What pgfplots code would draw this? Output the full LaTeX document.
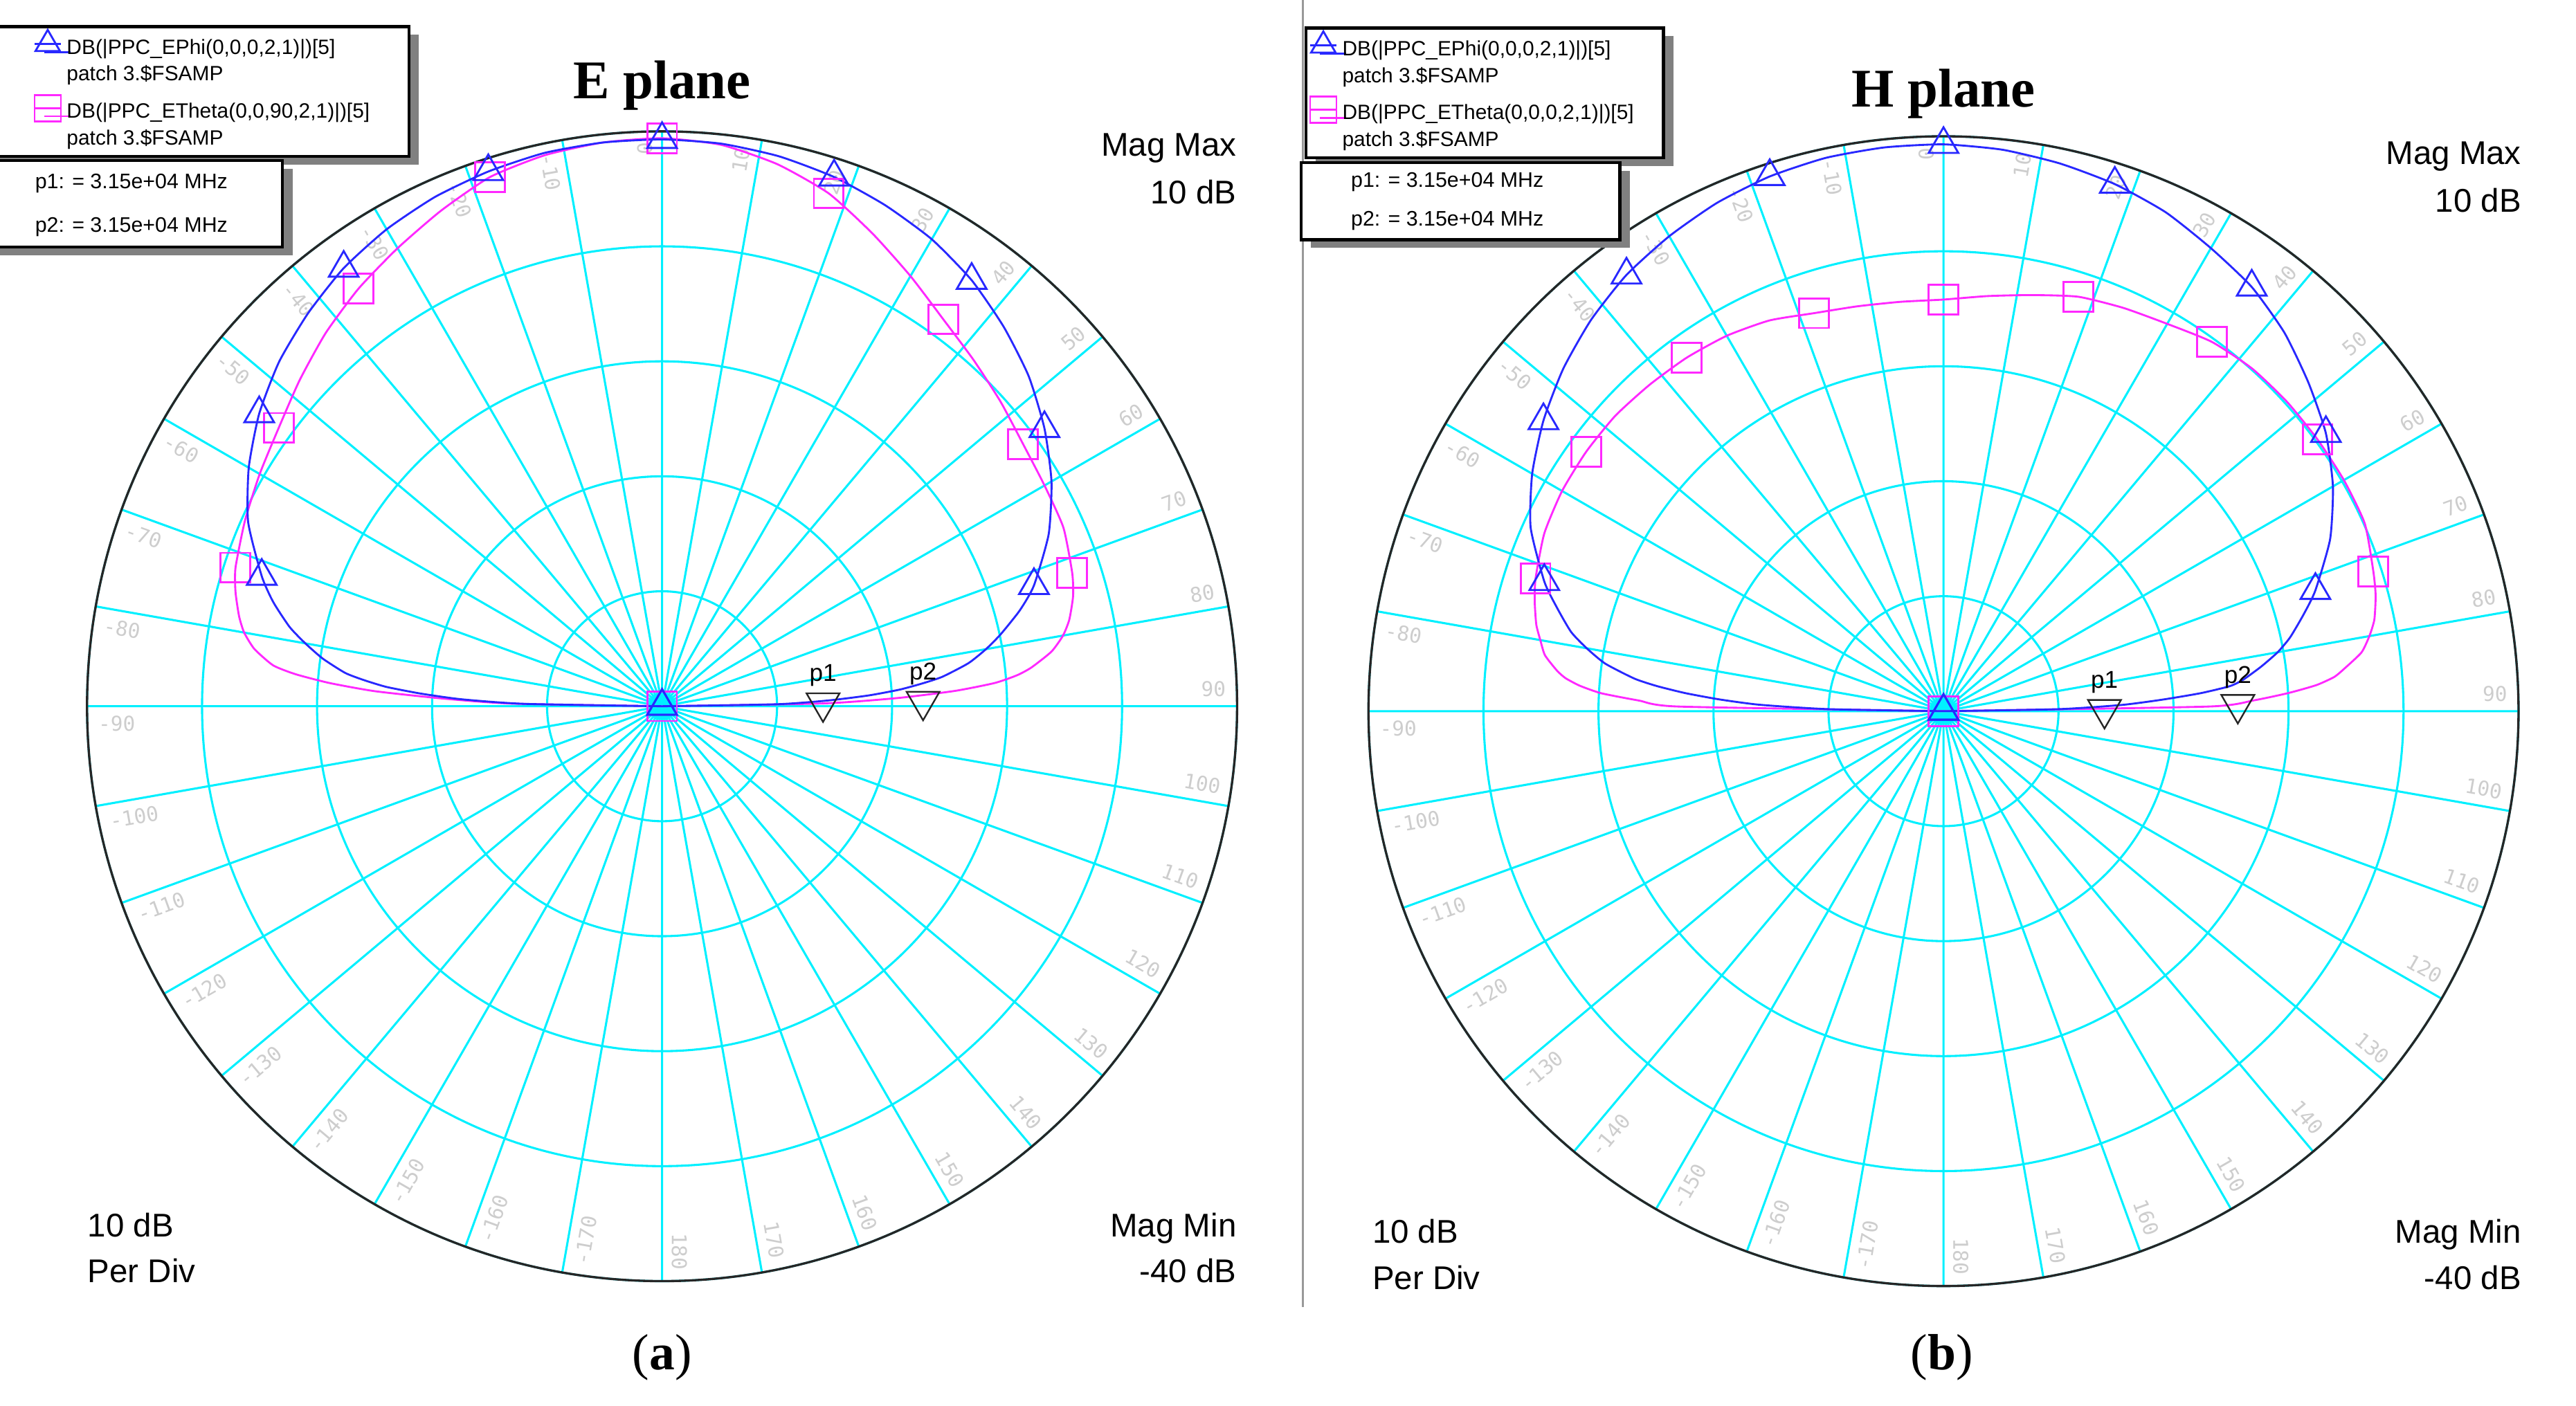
\documentclass[border=0pt]{standalone}
\usepackage{fontspec}
\setmainfont{Liberation Sans}
\newfontfamily\serifF{Liberation Serif}
\newfontfamily\monoF{DejaVu Sans Mono}
\usepackage{pgfplots}
\usepackage{pgfplotstable}
\pgfplotsset{compat=1.18}
\usepgfplotslibrary{polar}
\usetikzlibrary{shadows}

\definecolor{cblue}{RGB}{40,40,255}
\definecolor{cpink}{RGB}{255,40,255}
\definecolor{cgrid}{RGB}{0,240,255}
\definecolor{clabel}{RGB}{205,205,205}
\newcommand\fsz[1]{\fontsize{#1}{#1}\selectfont}

% theta (deg, clockwise from top), gain (dB)
\pgfplotstableread{
t db
-90 -40
-89 -28
-88 -22.5
-87 -19
-86 -16
-85 -14
-84 -12.3
-82 -10.2
-80 -8.5
-78 -6.9
-75 -5.0
-72 -3.4
-66 -0.6
-60 1.5
-54 3.3
-48 4.8
-42 6.0
-36 7.1
-30 7.9
-24 8.5
-18 8.9
-12 9.2
-6 9.3
0 9.3
6 9.2
12 8.9
18 8.4
24 7.7
30 6.9
36 5.8
42 4.4
48 2.9
54 1.1
60 -0.9
66 -3.2
72 -6.0
75 -7.8
78 -9.9
80 -11.4
82 -13.1
84 -15.5
85 -17.3
86 -19.3
87 -22.0
88 -25.5
89 -30.0
90 -40
}\EBlue

\pgfplotstableread{
t db
-90 -40
-89 -27
-88 -21
-87 -15
-86 -11
-85 -8
-84 -6
-82 -4.2
-80 -3.1
-78 -2.4
-75 -1.6
-72 -1.0
-66 -0.3
-60 0.4
-54 1.2
-48 2.4
-42 3.7
-36 4.9
-30 6.0
-24 7.2
-18 8.4
-12 9.0
-6 9.3
0 9.4
6 9.1
12 8.2
18 6.9
24 5.0
30 3.2
36 1.6
42 0.5
48 -0.4
54 -1.2
60 -1.6
66 -1.8
72 -2.5
75 -3.0
78 -3.8
80 -4.6
82 -5.8
84 -7.7
85 -9.0
86 -11
87 -14.5
88 -19.5
89 -26
90 -40
}\EPink

\pgfplotstableread{
t db
-90 -40
-89 -30
-88 -24
-87 -20.5
-86 -17.5
-85 -15
-84 -13.0
-82 -10.3
-80 -8.5
-78 -6.9
-75 -5.2
-72 -3.5
-66 -0.7
-60 1.3
-54 3.0
-48 4.5
-42 5.8
-36 6.9
-30 7.7
-24 8.4
-18 8.9
-12 9.2
-6 9.3
0 9.3
6 9.1
12 8.7
18 8.2
24 7.5
30 6.5
36 5.6
42 4.3
48 2.7
54 1.1
60 -0.9
66 -3.2
72 -6.0
75 -7.6
78 -9.2
80 -10.5
82 -12.1
84 -13.8
85 -15.0
86 -17.6
87 -21.0
88 -24.5
89 -30.0
90 -40
}\HBlue

\pgfplotstableread{
t db
-90 -40
-89 -17
-88 -13.5
-87 -10.2
-86 -8.3
-85 -7.0
-84 -6.2
-82 -5.0
-80 -4.4
-78 -3.8
-75 -3.2
-72 -2.7
-66 -2.0
-60 -1.7
-54 -1.6
-48 -1.6
-42 -1.8
-36 -2.0
-30 -2.3
-24 -2.8
-18 -3.6
-12 -4.0
-6 -4.2
0 -4.2
6 -3.7
12 -3.0
18 -2.1
24 -1.6
30 -1.1
36 -0.3
42 0.1
48 0.2
54 0.2
60 0.2
66 0.1
72 -0.7
75 -1.1
78 -1.7
80 -2.4
82 -3.3
84 -5.0
85 -5.9
86 -7.5
87 -10.0
88 -13.0
89 -17
90 -40
}\HPink

\tikzset{
  albl/.style={font=\monoF\fsz{6.2}, text=clabel, inner sep=0pt},
  plbl/.style={font=\fsz{7.4}, inner sep=0pt, anchor=base, yshift=6.5pt},
}
\pgfplotsset{
  patt/.style={
    scale only axis, width=350pt, height=350pt,
    xmin=0, xmax=360, ymin=0, ymax=50,
    xtick={0,10,...,350}, ytick={10,20,30,40,50},
    xticklabels={}, yticklabels={},
    tick label style={inner sep=0pt},
    xtick style={draw=none}, ytick style={draw=none},
    grid=major, major grid style={cgrid, line width=0.65pt},
    axis line style={black!85, line width=0.7pt},
    y axis line style={draw=none},
    legend cell align=left,
    legend style={font=\fontsize{6.3}{8.2}\selectfont, draw=black, line width=0.9pt,
      fill=white, inner xsep=1pt, inner ysep=1pt, row sep=1.8pt,
      column sep=1.5pt, nodes={inner sep=0pt, text depth=},
      drop shadow={shadow xshift=3pt, shadow yshift=-2.5pt, fill=black!50, opacity=1}},
  },
  bcurve/.style={cblue, line width=0.6pt, smooth, tension=0.35, mark=triangle, mark size=5.2pt,
    mark indices={1,12,15,18,21,24,27,30,33,36,47}, mark options={line width=0.6pt, solid}},
  pcurve/.style={cpink, line width=0.6pt, smooth, tension=0.35, mark=square, mark size=4.5pt,
    mark indices={1,12,15,18,21,24,27,30,33,36,47}, mark options={line width=0.6pt, solid}},
  pmark/.style={only marks, mark=triangle, mark size=5.8pt,
    mark options={rotate=180, black!85, line width=0.5pt}, forget plot},
}
\newcommand\anglelabels{%
  \pgfplotsinvokeforeach{0,10,...,180}{%
    \pgfmathsetmacro\aa{91.76-##1}\pgfmathsetmacro\rr{90-##1}%
    \edef\tmp{\noexpand\node[albl, anchor=east, rotate=\rr] at (axis cs:\aa,49.1) {##1};}\tmp}%
  \pgfplotsinvokeforeach{-10,-20,...,-170}{%
    \pgfmathsetmacro\aa{91.76-##1}\pgfmathsetmacro\rr{-90-##1}%
    \edef\tmp{\noexpand\node[albl, anchor=west, rotate=\rr] at (axis cs:\aa,49.1) {##1};}\tmp}%
}
\newcommand\two[2]{\begin{tabular}{@{}l@{}}#1\\#2\end{tabular}}

\begin{document}
\begin{tikzpicture}[x=1pt,y=1pt]
\path[use as bounding box] (0,0) rectangle (784,428);
\clip (0,0) rectangle (784,428);
\draw[black!40, line width=0.6pt] (396.5,430) -- (396.5,30);

% ---------- (a) E plane
\begin{polaraxis}[patt, at={(201.5pt,213pt)}, anchor=center,
  legend style={at={(axis description cs:0.2814,0.977)}, anchor=south east},
  legend image code/.code={\path (-25pt,0pt);
    \draw[#1, mark=none] (-4pt,5.5pt) -- (4pt,5.5pt);
    \draw[#1] plot coordinates {(0pt,5.5pt)};}]
\anglelabels
\addplot[pcurve, forget plot] table[x expr=90-\thisrow{t}, y expr=\thisrow{db}+40] {\EPink};
\addplot[bcurve, forget plot] table[x expr=90-\thisrow{t}, y expr=\thisrow{db}+40] {\EBlue};
\addplot[pmark] table[x expr=90-\thisrow{t}, y expr=\thisrow{db}+40] {
t db
88.8 -26.0
88.9 -17.3
};
\addlegendimage{cblue, line width=0.6pt, mark=triangle, mark size=4.3pt}
\addlegendentry{\two{DB(|PPC\_EPhi(0,0,0,2,1)|)[5]}{patch 3.\$FSAMP}}
\addlegendimage{cpink, line width=0.6pt, mark=square, mark size=4pt}
\addlegendentry{\two{DB(|PPC\_ETheta(0,0,90,2,1)|)[5]\kern11pt}{patch 3.\$FSAMP}}
\node[plbl] at (axis cs:1.2,14) {p1};
\node[plbl] at (axis cs:1.1,22.7) {p2};
\end{polaraxis}

% ---------- (b) H plane
\begin{polaraxis}[patt, at={(591.5pt,211.5pt)}, anchor=center,
  legend style={at={(axis description cs:-0.0557,0.98)}, anchor=south west},
  legend image code/.code={
    \draw[#1, mark=none] (-4pt,5.5pt) -- (4pt,5.5pt);
    \draw[#1] plot coordinates {(0pt,5.5pt)};}]
\anglelabels
\addplot[pcurve, forget plot] table[x expr=90-\thisrow{t}, y expr=\thisrow{db}+40] {\HPink};
\addplot[bcurve, forget plot] table[x expr=90-\thisrow{t}, y expr=\thisrow{db}+40] {\HBlue};
\addplot[pmark] table[x expr=90-\thisrow{t}, y expr=\thisrow{db}+40] {
t db
89.4 -26.0
88.7 -14.4
};
\addlegendimage{cblue, line width=0.6pt, mark=triangle, mark size=4.3pt}
\addlegendentry{\two{DB(|PPC\_EPhi(0,0,0,2,1)|)[5]}{patch 3.\$FSAMP}}
\addlegendimage{cpink, line width=0.6pt, mark=square, mark size=4pt}
\addlegendentry{\two{DB(|PPC\_ETheta(0,0,0,2,1)|)[5]\kern8pt}{patch 3.\$FSAMP}}
\node[plbl] at (axis cs:0.6,14) {p1};
\node[plbl] at (axis cs:1.3,25.6) {p2};
\end{polaraxis}

% marker read-out boxes
\draw[line width=0.9pt, fill=white, drop shadow={shadow xshift=3pt, shadow yshift=-2.5pt, fill=black!50, opacity=1}] (-5,352.75) rectangle (86,379.2);
\node[anchor=west, inner sep=0pt, font=\fsz{6.4}] at (10.5,372.15) {p1: = 3.15e+04 MHz};
\node[anchor=west, inner sep=0pt, font=\fsz{6.4}] at (10.5,359) {p2: = 3.15e+04 MHz};
\draw[line width=0.9pt, fill=white, drop shadow={shadow xshift=3pt, shadow yshift=-2.5pt, fill=black!50, opacity=1}] (396,355) rectangle (493,378.5);
\node[anchor=west, inner sep=0pt, font=\fsz{6.4}] at (411,372.5) {p1: = 3.15e+04 MHz};
\node[anchor=west, inner sep=0pt, font=\fsz{6.4}] at (411,360.8) {p2: = 3.15e+04 MHz};

% titles and scale notes
\node[anchor=base, inner sep=0pt, font=\serifF\bfseries\fsz{16.6}] at (201.5,398) {E plane};
\node[anchor=base, inner sep=0pt, font=\serifF\bfseries\fsz{16.6}] at (591.5,395.5) {H plane};
\begin{scope}[every node/.style={inner sep=0pt, font=\fsz{10}}]
\node[anchor=base east] at (376.5,380.5) {Mag Max};
\node[anchor=base east] at (376.5,366) {10 dB};
\node[anchor=base east] at (767.5,378) {Mag Max};
\node[anchor=base east] at (767.5,363.5) {10 dB};
\node[anchor=base west] at (26.5,51.5) {10 dB};
\node[anchor=base west] at (26.5,37.5) {Per Div};
\node[anchor=base west] at (417.5,49.5) {10 dB};
\node[anchor=base west] at (417.5,35.5) {Per Div};
\node[anchor=base east] at (376.5,51.5) {Mag Min};
\node[anchor=base east] at (376.5,37.5) {-40 dB};
\node[anchor=base east] at (767.5,49.5) {Mag Min};
\node[anchor=base east] at (767.5,35.5) {-40 dB};
\end{scope}
\node[anchor=base, inner sep=0pt, font=\serifF\fsz{15.5}] at (201.5,11) {(\textbf{a})};
\node[anchor=base, inner sep=0pt, font=\serifF\fsz{15.5}] at (591,11) {(\textbf{b})};
\end{tikzpicture}
\end{document}
